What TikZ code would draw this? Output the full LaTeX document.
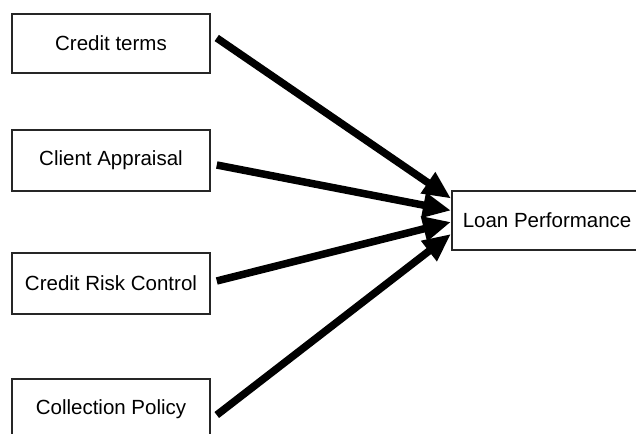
\documentclass[tikz,border=0pt]{standalone}
\usepackage{fontspec}
\setmainfont{Liberation Sans}
\usetikzlibrary{arrows.meta}
\begin{document}
\begin{tikzpicture}[x=1pt,y=1pt,
  box/.style={draw=black!85,line width=1.5pt,minimum width=198pt,minimum height=59pt,inner sep=0pt,font=\fontsize{20.5}{24}\selectfont},
  conn/.style={line width=7.5pt,-{Triangle[length=28pt,width=24pt]}}]
\useasboundingbox (0,0) rectangle (636,433);
\clip (0,0) rectangle (636,433);
\node[box] (b1) at (111,389.5) {Credit terms};
\node[box,minimum height=61pt] (b2) at (111,272.5) {Client Appraisal};
\node[box,minimum height=61pt] (b3) at (111,149.5) {Credit Risk Control};
\node[box,minimum height=60pt] (b4) at (111,24) {Collection Policy};
\node[box,minimum width=0pt,inner xsep=11pt,anchor=west] (lp) at (451,212.5) {Loan Performance};
\draw[conn] ([xshift=6pt,yshift=5.5pt]b1.east) -- ([yshift=22pt]lp.west);
\draw[conn] ([xshift=6pt,yshift=-4.5pt]b2.east) -- ([yshift=10pt]lp.west);
\draw[conn] ([xshift=6pt,yshift=2.5pt]b3.east) -- ([yshift=-1.5pt]lp.west);
\draw[conn] ([xshift=6pt,yshift=-6pt]b4.east) -- ([yshift=-13.5pt]lp.west);
\end{tikzpicture}
\end{document}
